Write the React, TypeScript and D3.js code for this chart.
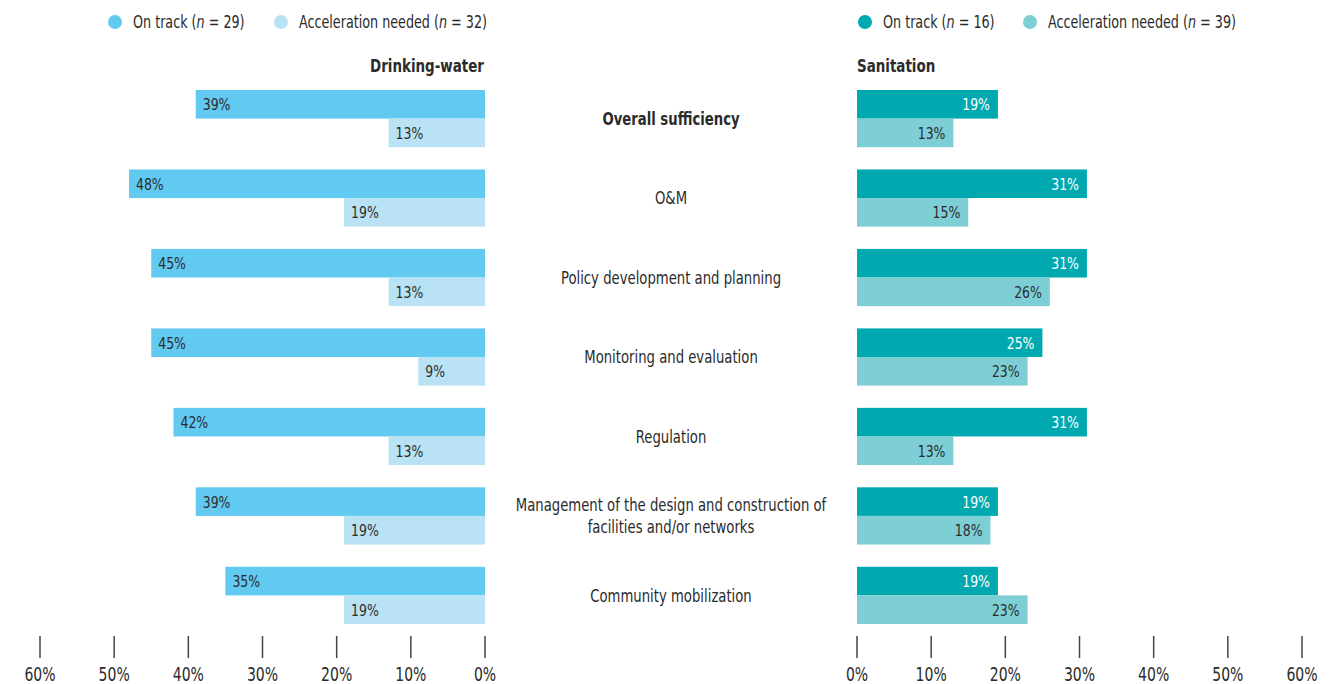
import * as React from "react";
import * as d3 from "d3";

const categories = [
    "Overall sufficiency",
    "O&M",
    "Policy development and planning",
    "Monitoring and evaluation",
    "Regulation",
    "Management of the design and construction of|facilities and/or networks",
    "Community mobilization",
];

const waterOnTrack = [39, 48, 45, 45, 42, 39, 35];
const waterAccel = [13, 19, 13, 9, 13, 19, 19];
const sanOnTrack = [19, 31, 31, 25, 31, 19, 19];
const sanAccel = [13, 15, 26, 23, 13, 18, 23];

const tickValues = [0, 10, 20, 30, 40, 50, 60];

const legendWater = [
    { label: "On track", n: 29, color: "#62c9f0" },
    { label: "Acceleration needed", n: 32, color: "#b9e3f5" },
];
const legendSan = [
    { label: "On track", n: 16, color: "#00a9b0" },
    { label: "Acceleration needed", n: 39, color: "#7ecfd5" },
];

const FONT = "'DejaVu Sans Condensed', 'Liberation Sans Narrow', sans-serif";
const TEXT = "#2b2b2b";
// squeeze text horizontally, the original face is a condensed one
const K = 0.84;

const App: React.FC = () => {
    const svgRef = React.useRef<SVGSVGElement | null>(null);

    React.useEffect(() => {
        if (!svgRef.current) return;
        const svg = d3.select(svgRef.current);
        svg.selectAll("*").remove();
        svg.style("font-family", FONT);

        const place = (x: number, y: number, k = K) => `translate(${x},${y}) scale(${k},1)`;

        const xLeft = d3.scaleLinear().domain([0, 60]).range([485, 40]);
        const xRight = d3.scaleLinear().domain([0, 60]).range([857, 1302]);

        const y = d3.scaleBand<number>()
            .domain(d3.range(categories.length))
            .range([90, 624])
            .paddingInner(0.28)
            .paddingOuter(0);
        const half = y.bandwidth() / 2;

        const drawPanel = (
            x: d3.ScaleLinear<number, number>,
            onTrack: number[],
            accel: number[],
            colors: string[],
            side: "left" | "right"
        ) => {
            const g = svg.append("g");
            const series = [onTrack, accel];
            series.forEach((vals, si) => {
                g.selectAll(`.bar-${side}-${si}`)
                    .data(vals)
                    .enter().append("rect")
                    .attr("x", d => Math.min(x(0), x(d)))
                    .attr("y", (d, i) => y(i)! + si * half)
                    .attr("width", d => Math.abs(x(d) - x(0)))
                    .attr("height", half)
                    .attr("fill", colors[si]);

                g.selectAll(`.lbl-${side}-${si}`)
                    .data(vals)
                    .enter().append("text")
                    .attr("transform", (d, i) => place(
                        side === "left" ? x(d) + 7 : x(d) - 8,
                        y(i)! + si * half + half / 2
                    ))
                    .attr("dy", "0.36em")
                    .attr("text-anchor", side === "left" ? "start" : "end")
                    .attr("font-size", 16.5)
                    .attr("fill", side === "right" && si === 0 ? "#ffffff" : TEXT)
                    .text(d => `${d}%`);
            });

            // axis ticks
            const ax = svg.append("g");
            ax.selectAll("line")
                .data(tickValues)
                .enter().append("line")
                .attr("x1", d => x(d))
                .attr("x2", d => x(d))
                .attr("y1", 636)
                .attr("y2", 658)
                .attr("stroke", "#444")
                .attr("stroke-width", 1.5);
            ax.selectAll("text")
                .data(tickValues)
                .enter().append("text")
                .attr("transform", d => place(x(d), 681, 0.82))
                .attr("text-anchor", "middle")
                .attr("font-size", 19)
                .attr("fill", TEXT)
                .text(d => `${d}%`);
        };

        drawPanel(xLeft, waterOnTrack, waterAccel, [legendWater[0].color, legendWater[1].color], "left");
        drawPanel(xRight, sanOnTrack, sanAccel, [legendSan[0].color, legendSan[1].color], "right");

        // category labels
        const cat = svg.append("g");
        categories.forEach((c, i) => {
            const lines = c.split("|");
            const cy = y(i)! + half;
            const t = cat.append("text")
                .attr("transform", place(671, cy))
                .attr("text-anchor", "middle")
                .attr("font-size", 17.5)
                .attr("font-weight", i === 0 ? "bold" : "normal")
                .attr("fill", TEXT);
            lines.forEach((ln, li) => {
                t.append("tspan")
                    .attr("x", 0)
                    .attr("y", (li - (lines.length - 1) / 2) * 22)
                    .attr("dy", "0.36em")
                    .text(ln);
            });
        });

        // panel titles
        svg.append("text")
            .attr("transform", place(484, 72, 0.88))
            .attr("text-anchor", "end")
            .attr("font-size", 17).attr("font-weight", "bold")
            .attr("fill", TEXT)
            .text("Drinking-water");
        svg.append("text")
            .attr("transform", place(857, 72, 0.88))
            .attr("text-anchor", "start")
            .attr("font-size", 17).attr("font-weight", "bold")
            .attr("fill", TEXT)
            .text("Sanitation");

        // legends
        const drawLegend = (items: typeof legendWater, xs: number[]) => {
            items.forEach((it, i) => {
                svg.append("circle")
                    .attr("cx", xs[i]).attr("cy", 22).attr("r", 7)
                    .attr("fill", it.color);
                const t = svg.append("text")
                    .attr("transform", place(xs[i] + 18, 22, 0.81))
                    .attr("dy", "0.36em")
                    .attr("font-size", 17.5)
                    .attr("fill", TEXT);
                t.append("tspan").text(`${it.label} (`);
                t.append("tspan").attr("font-style", "italic").text("n");
                t.append("tspan").text(` = ${it.n})`);
            });
        };
        drawLegend(legendWater, [115, 281]);
        drawLegend(legendSan, [865, 1030]);
    }, []);

    return (
        <svg
            ref={svgRef}
            width={1331}
            height={684}
            style={{ position: "absolute", left: 0, top: 0, background: "#fff" }}
        />
    );
};

export default App;
